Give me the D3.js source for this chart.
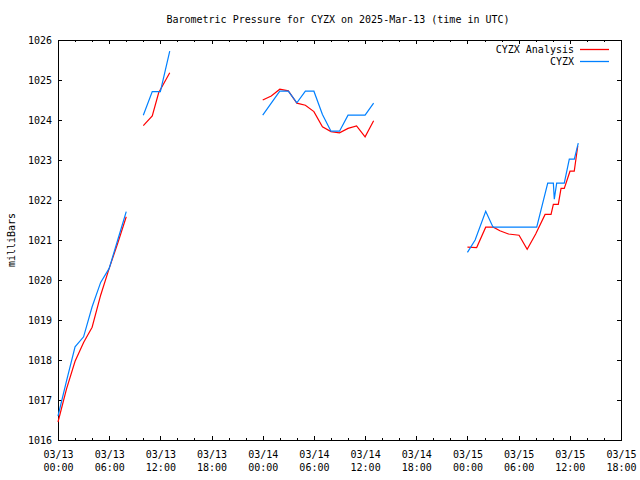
<!DOCTYPE html>
<html>
<head>
<meta charset="utf-8">
<script src="https://cdn.jsdelivr.net/npm/d3@7"></script>
<style>
  body { margin: 0; background: #fff; }
  svg { display: block; }
  text { font-family: "DejaVu Sans Mono", "Liberation Mono", monospace; font-size: 10px; fill: #000; }
</style>
</head>
<body>
<svg id="chart" width="640" height="480"></svg>
<script>
// ---- data (hours since 2025-03-13 00:00 UTC; null = gap) ----
const titleText = "Barometric Pressure for CYZX on 2025-Mar-13 (time in UTC)";
const yLabel = "milliBars";
const seriesNames = ["CYZX Analysis", "CYZX"];
const seriesColors = ["#ff0000", "#0080ff"];

const analysisHours = [0, 1, 2, 3, 4, 5, 6, 7, 8, null,
  10, 11.05, 11.8, 13.1, null,
  24, 25, 26, 27, 28, 29, 30, 31, 32, 33, 34, 35, 36, 37, null,
  48, 49.08, 50.14, 51.04, 51.8, 52.8, 54.05, 55, 56, 57.1, 57.8, 58.07, 58.65, 58.97, 59.35, 60.02, 60.52, 60.93];
const analysisValues = [1016.45, 1017.28, 1017.97, 1018.44, 1018.82, 1019.62, 1020.29, 1020.92, 1021.58, null,
  1023.86, 1024.1, 1024.68, 1025.18, null,
  1024.5, 1024.6, 1024.77, 1024.73, 1024.42, 1024.37, 1024.21, 1023.83, 1023.71, 1023.68, 1023.79, 1023.85, 1023.58, 1023.98, null,
  1020.82, 1020.81, 1021.32, 1021.32, 1021.23, 1021.15, 1021.12, 1020.77, 1021.15, 1021.64, 1021.64, 1021.89, 1021.89, 1022.29, 1022.29, 1022.72, 1022.72, 1023.35];

const obsHours = [0, 1, 2, 3, 4, 5, 6, 7, 8, null,
  10, 11.05, 12, 13.1, null,
  24, 25, 26, 27, 28, 29, 30, 31, 32, 33, 34, 35, 36, 37, null,
  48, 48.9, 50.14, 51.0, 56.12, 57.41, 58.07, 58.18, 58.46, 59.35, 59.94, 60.53, 60.99];
const obsValues = [1016.6, 1017.48, 1018.33, 1018.58, 1019.33, 1019.94, 1020.29, 1021.0, 1021.71, null,
  1024.12, 1024.71, 1024.71, 1025.72, null,
  1024.12, 1024.42, 1024.72, 1024.72, 1024.43, 1024.72, 1024.72, 1024.14, 1023.72, 1023.72, 1024.12, 1024.12, 1024.12, 1024.42, null,
  1020.69, 1021.0, 1021.72, 1021.32, 1021.32, 1022.42, 1022.42, 1022.02, 1022.42, 1022.42, 1023.02, 1023.02, 1023.42];

const xTickHours = [0, 6, 12, 18, 24, 30, 36, 42, 48, 54, 60, 66];
const xMinorHours = d3.range(0, 67, 2);
const yTicks = [1016, 1017, 1018, 1019, 1020, 1021, 1022, 1023, 1024, 1025, 1026];

// ---- layout ----
const start = Date.UTC(2025, 2, 13, 0, 0);
const toDate = h => new Date(start + h * 3600e3);
const L = 58, R = 621, T = 40, B = 440;

const svg = d3.select("#chart");
const x = d3.scaleUtc().domain([toDate(0), toDate(66)]).range([L, R]);
const y = d3.scaleLinear().domain([1016, 1026]).range([B, T]);

const fmtDay = d3.utcFormat("%m/%d");
const fmtTime = d3.utcFormat("%H:%M");

// minor ticks bottom + top
svg.append("g").attr("transform", `translate(0,${B})`)
  .call(d3.axisBottom(x).tickValues(xMinorHours.map(toDate)).tickSize(-2).tickFormat(""));
svg.append("g").attr("transform", `translate(0,${T})`)
  .call(d3.axisTop(x).tickValues(xMinorHours.map(toDate)).tickSize(-2).tickFormat(""));
// major ticks bottom with labels
const gB = svg.append("g").attr("transform", `translate(0,${B})`)
  .call(d3.axisBottom(x).tickValues(xTickHours.map(toDate)).tickSize(-4).tickPadding(0));
gB.selectAll(".tick text").each(function(d) {
  const t = d3.select(this);
  t.text(null).attr("dy", null).attr("y", 0);
  t.append("tspan").attr("x", 0).attr("y", 18).text(fmtDay(d));
  t.append("tspan").attr("x", 0).attr("y", 31).text(fmtTime(d));
});
svg.append("g").attr("transform", `translate(0,${T})`)
  .call(d3.axisTop(x).tickValues(xTickHours.map(toDate)).tickSize(-4).tickFormat(""));
// y axes
svg.append("g").attr("transform", `translate(${L},0)`)
  .call(d3.axisLeft(y).tickValues(yTicks).tickSize(-4).tickPadding(6).tickFormat(d3.format("d")));
svg.append("g").attr("transform", `translate(${R},0)`)
  .call(d3.axisRight(y).tickValues(yTicks).tickSize(-4).tickFormat(""));

svg.selectAll(".domain").remove();
svg.selectAll(".tick line").attr("stroke", "#000").attr("shape-rendering", "crispEdges");
svg.selectAll("g text").attr("font-family", null).attr("font-size", null).attr("fill", "#000");

// border
svg.append("rect").attr("x", L).attr("y", T).attr("width", R - L).attr("height", B - T)
  .attr("fill", "none").attr("stroke", "#000").attr("shape-rendering", "crispEdges");

// lines
function drawSeries(hours, values, color) {
  const pts = hours.map((h, i) => ({ h, v: values[i] }));
  const line = d3.line()
    .defined(d => d.h !== null && d.v !== null)
    .x(d => x(toDate(d.h)))
    .y(d => y(d.v));
  svg.append("path").datum(pts)
    .style("fill", "none").style("stroke", color).style("stroke-width", "1.2px")
    .attr("d", line);
}
drawSeries(analysisHours, analysisValues, seriesColors[0]);
drawSeries(obsHours, obsValues, seriesColors[1]);

// title
svg.append("text").attr("x", 338).attr("y", 23).attr("text-anchor", "middle").text(titleText);
// y label
svg.append("text").attr("transform", "translate(15,240) rotate(-90)")
  .attr("text-anchor", "middle").text(yLabel);

// legend
const legendLine = d3.line();
seriesNames.forEach((name, i) => {
  const ly = 49 + i * 12;
  svg.append("text").attr("x", 574).attr("y", ly).attr("dy", "0.35em")
    .attr("text-anchor", "end").text(name);
  svg.append("path").attr("d", legendLine([[580, ly + 0.5], [609, ly + 0.5]]))
    .style("fill", "none").style("stroke", seriesColors[i]).style("stroke-width", "1.3px");
});
</script>
</body>
</html>
